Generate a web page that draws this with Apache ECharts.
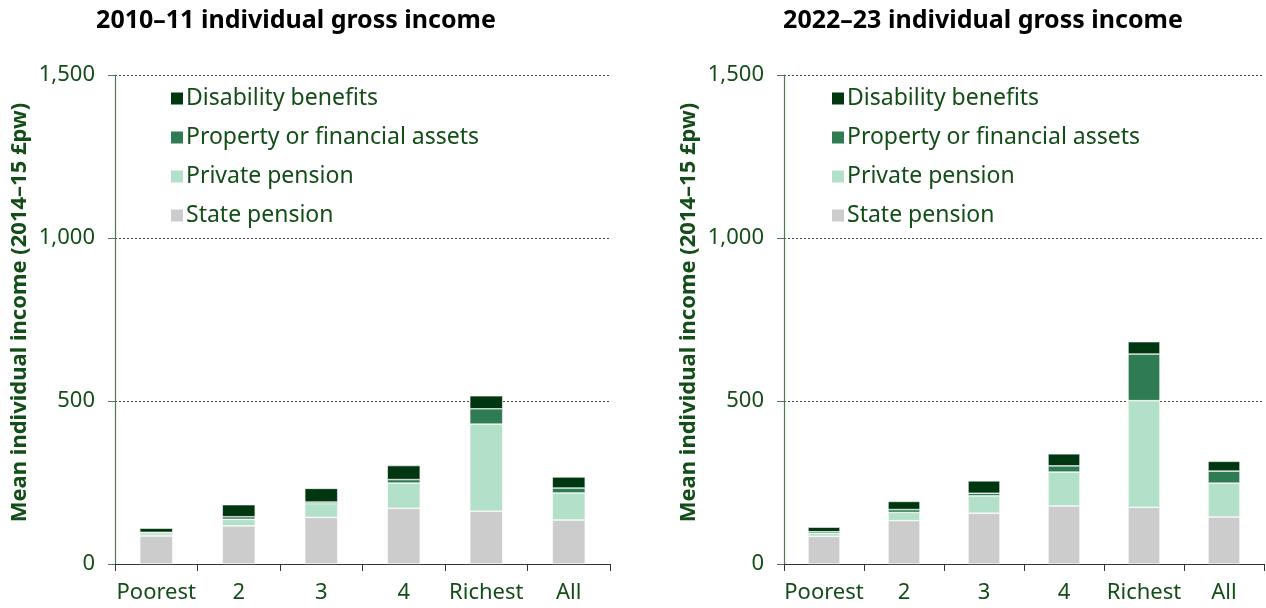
<!DOCTYPE html>
<html>
<head>
<meta charset="utf-8">
<script src="https://cdn.jsdelivr.net/npm/echarts@6/dist/echarts.min.js"></script>
<style>
  html, body { margin: 0; padding: 0; background: #fff; }
  #chart { width: 1266px; height: 608px; }
</style>
</head>
<body>
<div id="chart"></div>
<script>
const categories = ['Poorest', '2', '3', '4', 'Richest', 'All']
const seriesNames = ['State pension', 'Private pension', 'Property or financial assets', 'Disability benefits']
const yTicks = [0, 500, 1000, 1500]

// 2010–11 (£pw, 2014–15 prices)
const state2010 = [86, 117, 143, 171, 162, 135]
const private2010 = [7, 20, 42, 77, 267, 83]
const property2010 = [4, 8, 5, 11, 47, 15]
const disability2010 = [13, 37, 42, 43, 40, 34]

// 2022–23
const state2022 = [85, 133, 156, 178, 174, 144]
const private2022 = [9, 25, 53, 104, 327, 104]
const property2022 = [5, 9, 8, 19, 143, 37]
const disability2022 = [14, 25, 38, 37, 38, 30]

const colors = ['#cccccc', '#b2e0c8', '#2f7b53', '#003610']
const textColor = '#134d17'
const font = 'Noto Sans'

const makeSeries = (idx, arrs) => arrs.map((data, i) => ({
  name: seriesNames[i],
  type: 'bar',
  stack: 'total' + idx,
  xAxisIndex: idx,
  yAxisIndex: idx,
  barWidth: '40%',
  itemStyle: { color: colors[i], borderColor: '#fff', borderWidth: 0.6 },
  data: data
}))

const makeX = (idx) => ({
  type: 'category',
  gridIndex: idx,
  data: categories,
  axisLine: { lineStyle: { color: '#333', width: 1 } },
  axisTick: { show: true, interval: 0, length: 7, lineStyle: { color: '#333' } },
  axisLabel: { interval: 0, color: textColor, fontSize: 22, fontFamily: font, margin: 18 }
})

const makeY = (idx) => ({
  type: 'value',
  gridIndex: idx,
  min: 0,
  max: 1500,
  interval: 500,
  name: 'Mean individual income (2014–15 £pw)',
  nameLocation: 'middle',
  nameGap: 84,
  nameTextStyle: { color: textColor, fontSize: 22, fontWeight: 'bold', fontFamily: font, padding: [0, 0, 0, 14] },
  axisLine: { show: true, lineStyle: { color: '#4f7a50', width: 1.2 } },
  axisTick: { show: true, length: 7, lineStyle: { color: '#4f7a50' } },
  axisLabel: {
    color: textColor, fontSize: 22, fontFamily: font, margin: 20,
    formatter: v => yTicks.includes(v) ? v.toLocaleString('en-GB') : ''
  },
  splitLine: { show: true, lineStyle: { color: '#444', type: [2, 2], width: 1 } }
})

const makeLegend = (left) => ({
  left: left,
  top: 78,
  orient: 'vertical',
  itemGap: 8,
  itemWidth: 14,
  itemHeight: 14,
  icon: 'rect',
  data: seriesNames.slice().reverse(),
  textStyle: { color: textColor, fontSize: 23, fontFamily: font, lineHeight: 31, padding: [0, 0, 0, -3] }
})

const chart = echarts.init(document.getElementById('chart'))
chart.setOption({
  backgroundColor: '#fff',
  animation: false,
  title: [
    { text: '2010–11 individual gross income', left: 291, top: 3, textAlign: 'center',
      textStyle: { color: '#000', fontSize: 25, fontWeight: 'bold', fontFamily: font } },
    { text: '2022–23 individual gross income', left: 978, top: 3, textAlign: 'center',
      textStyle: { color: '#000', fontSize: 25, fontWeight: 'bold', fontFamily: font } }
  ],
  legend: [makeLegend(164), makeLegend(825)],
  grid: [
    { left: 115, right: 656, top: 75, bottom: 44 },
    { left: 784, right: 2, top: 75, bottom: 44 }
  ],
  xAxis: [makeX(0), makeX(1)],
  yAxis: [makeY(0), makeY(1)],
  series: [
    ...makeSeries(0, [state2010, private2010, property2010, disability2010]),
    ...makeSeries(1, [state2022, private2022, property2022, disability2022])
  ]
})
</script>
</body>
</html>
